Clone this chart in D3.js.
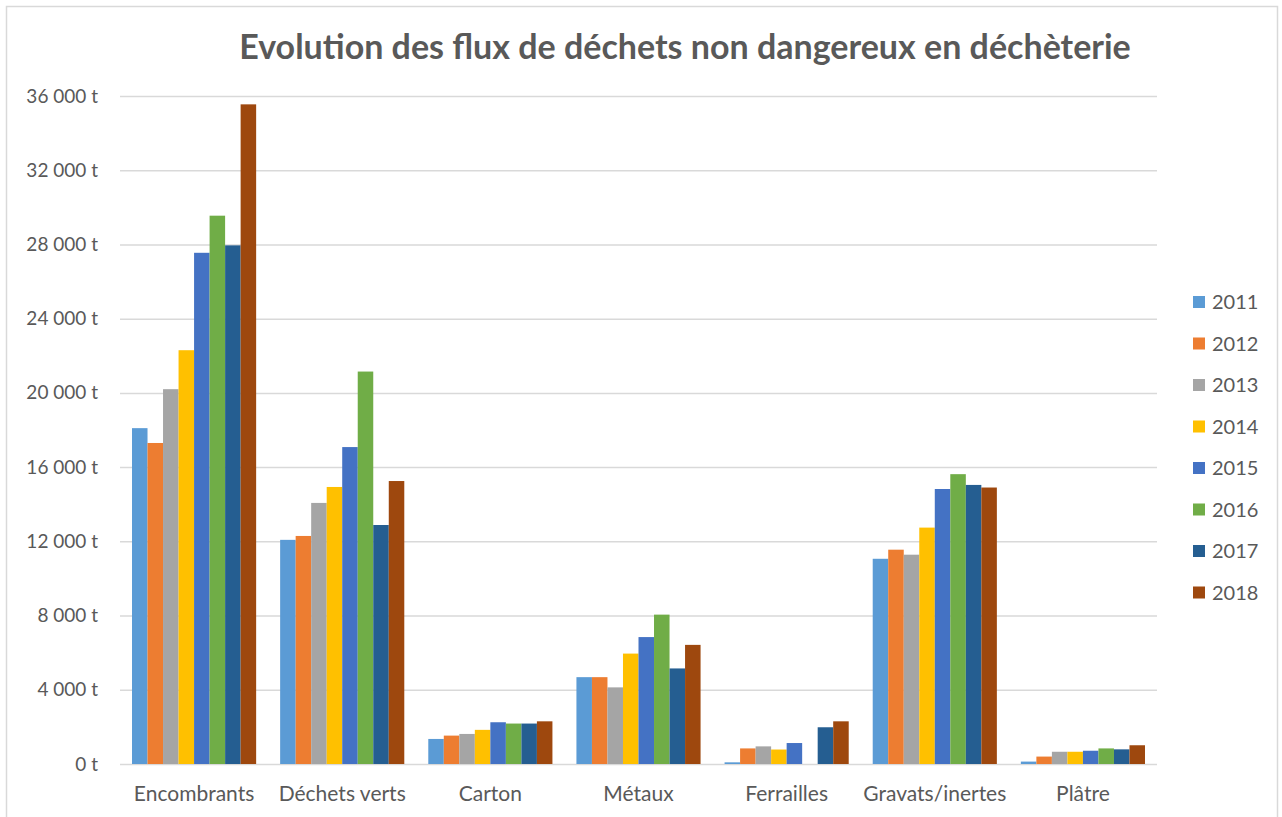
<!DOCTYPE html>
<html>
<head>
<meta charset="utf-8">
<script src="https://cdn.jsdelivr.net/npm/d3@7"></script>
<style>
  body { margin: 0; background: #fff; }
  svg { display: block; font-family: Lato, "Open Sans", sans-serif; }
  .grid line { stroke: #d9d9d9; stroke-width: 1.5; }
  .tick text { fill: #595959; }
</style>
</head>
<body>
<div id="chart"></div>
<script>
// categories and series
const categories = ["Encombrants", "Déchets verts", "Carton", "Métaux", "Ferrailles", "Gravats/inertes", "Plâtre"];
const years = ["2011", "2012", "2013", "2014", "2015", "2016", "2017", "2018"];
const colors = ["#5b9bd5", "#ed7d31", "#a5a5a5", "#ffc000", "#4472c4", "#70ad47", "#255e91", "#9e480e"];

// tonnes per year, one array per category (same order as years)
const encombrants = [18100, 17300, 20200, 22300, 27550, 29550, 27950, 35550];
const dechetsVerts = [12080, 12290, 14070, 14930, 17080, 21150, 12880, 15250];
const carton = [1350, 1530, 1620, 1840, 2250, 2180, 2180, 2300];
const metaux = [4680, 4680, 4130, 5950, 6840, 8050, 5150, 6420];
const ferrailles = [90, 840, 950, 780, 1130, 0, 1980, 2300];
const gravats = [11060, 11550, 11280, 12740, 14820, 15620, 15040, 14900];
const platre = [130, 400, 660, 660, 715, 840, 790, 1010];

const yTicks = [0, 4000, 8000, 12000, 16000, 20000, 24000, 28000, 32000, 36000];

const seriesByCat = [encombrants, dechetsVerts, carton, metaux, ferrailles, gravats, platre];
const data = categories.map((c, i) => ({
  cat: c,
  values: years.map((yr, j) => ({ year: yr, value: seriesByCat[i][j] }))
}));

const W = 1282, H = 817;
const plot = { left: 120, right: 1157, top: 96, bottom: 764 };

const svg = d3.select("#chart").append("svg")
  .attr("width", W)
  .attr("height", H);

// outer frame
svg.append("rect")
  .attr("x", 6.5).attr("y", 6.5)
  .attr("width", 1271).attr("height", 830)
  .attr("fill", "none")
  .attr("stroke", "#d9d9d9")
  .attr("stroke-width", 1.5);

// title
svg.append("text")
  .attr("x", 685)
  .attr("y", 59)
  .attr("text-anchor", "middle")
  .style("font-size", "34px")
  .style("font-weight", "bold")
  .attr("fill", "#595959")
  .text("Evolution des flux de déchets non dangereux en déchèterie");

const x0 = d3.scaleBand()
  .domain(categories)
  .range([plot.left, plot.right])
  .paddingInner(0.162)
  .paddingOuter(0.081);

const x1 = d3.scaleBand()
  .domain(years)
  .range([0, x0.bandwidth()]);

const y = d3.scaleLinear()
  .domain([0, 36000])
  .range([plot.bottom, plot.top]);

const color = d3.scaleOrdinal().domain(years).range(colors);

// french number format: "36 000 t"
const fr = d3.formatLocale({ decimal: ",", thousands: "\u00a0", grouping: [3], currency: ["", " €"] });
const tfmt = v => fr.format(",.0f")(v) + " t";

// gridlines + y labels
const yAxis = svg.append("g")
  .attr("class", "grid")
  .attr("transform", `translate(${plot.left},0)`)
  .call(d3.axisLeft(y)
    .tickValues(yTicks)
    .tickSize(-(plot.right - plot.left))
    .tickPadding(22)
    .tickFormat(tfmt));
yAxis.select(".domain").remove();
yAxis.selectAll(".tick text")
  .style("font-size", "19px")
  .style("font-family", "Lato, 'Open Sans', sans-serif");

// bars
const groups = svg.append("g")
  .selectAll("g")
  .data(data)
  .join("g")
  .attr("transform", d => `translate(${x0(d.cat)},0)`);

groups.selectAll("rect")
  .data(d => d.values)
  .join("rect")
  .attr("x", d => x1(d.year))
  .attr("width", x1.bandwidth())
  .attr("y", d => y(d.value))
  .attr("height", d => y(0) - y(d.value))
  .attr("fill", d => color(d.year));

// x labels
const xAxis = svg.append("g")
  .attr("transform", `translate(0,${plot.bottom})`)
  .call(d3.axisBottom(x0).tickSize(0).tickPadding(22));
xAxis.select(".domain").remove();
xAxis.selectAll(".tick text")
  .style("font-size", "21px")
  .style("font-family", "Lato, 'Open Sans', sans-serif");

// legend
const legend = svg.append("g")
  .selectAll("g")
  .data(years)
  .join("g")
  .attr("transform", (d, i) => `translate(1193,${302 + i * 41.5})`);

legend.append("rect")
  .attr("x", 0).attr("y", -6)
  .attr("width", 12).attr("height", 12)
  .attr("fill", d => color(d));

legend.append("text")
  .attr("x", 19)
  .attr("dy", "0.35em")
  .style("font-size", "20px")
  .attr("fill", "#595959")
  .text(d => d);
</script>
</body>
</html>
